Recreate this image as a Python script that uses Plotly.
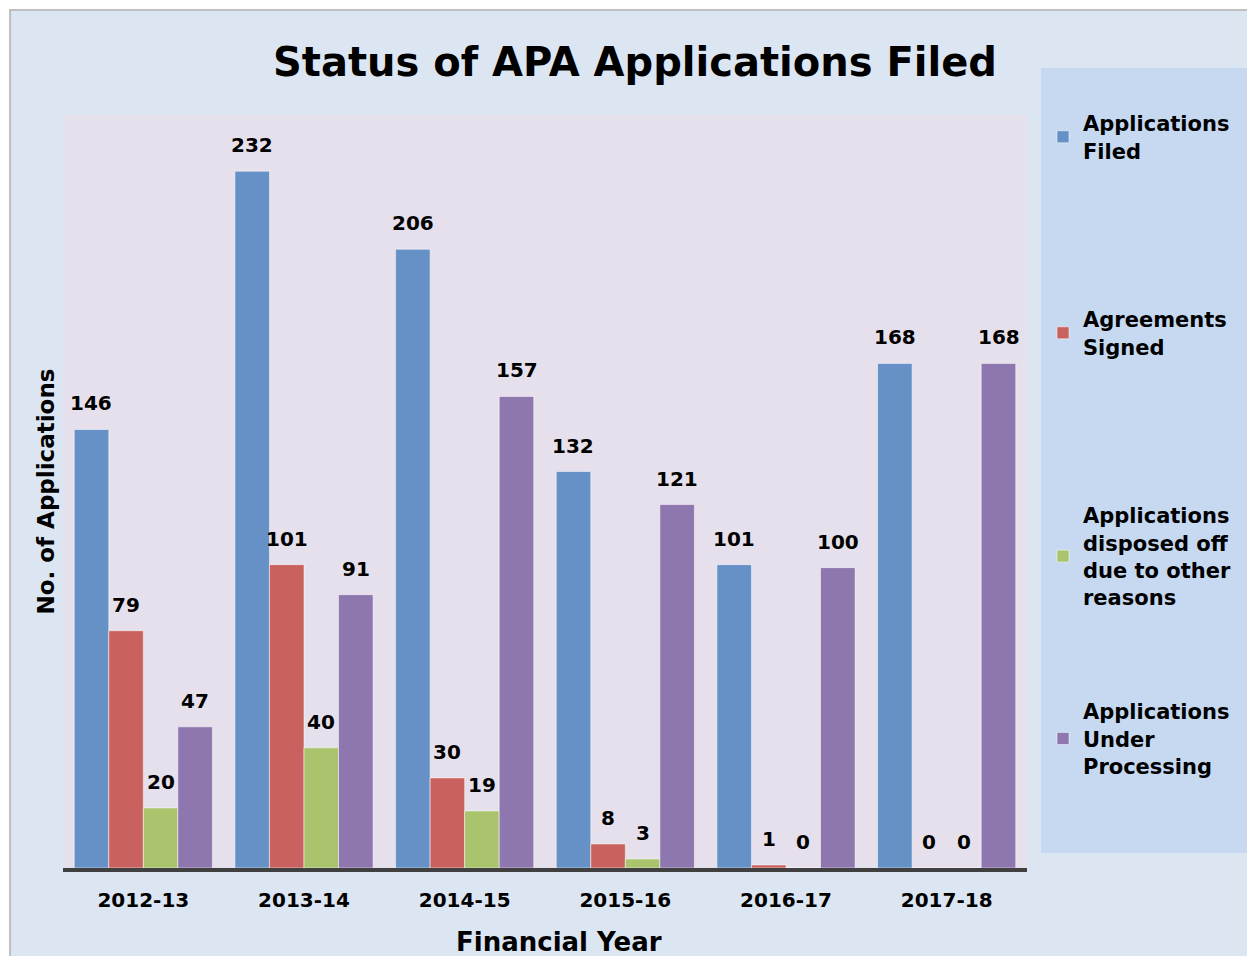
import plotly.graph_objects as go

years = ["2012-13", "2013-14", "2014-15", "2015-16", "2016-17", "2017-18"]
filed = [146, 232, 206, 132, 101, 168]
signed = [79, 101, 30, 8, 1, 0]
disposed = [20, 40, 19, 3, 0, 0]
processing = [47, 91, 157, 121, 100, 168]

series_names = ["Applications<br>Filed", "Agreements<br>Signed",
                "Applications<br>disposed off<br>due to other<br>reasons",
                "Applications<br>Under<br>Processing"]
series_values = [filed, signed, disposed, processing]
colors = ["#6691c6", "#c9625f", "#a9c46d", "#8e76ae"]

W, H = 1247, 956
L, R, T, B = 63, 219, 115, 88
pw, ph = W - L - R, H - T - B
BARGAP = 0.14

def px_x(p):
    return (p - L) / pw

def px_y(p):
    return (H - B - p) / ph

FONT = "DejaVu Sans"
fig = go.Figure()
legend_tops = [103, 299, 495, 691]
n = len(series_values)
bw = pw / len(years) * (1 - BARGAP) / n
annotations = []
for i, (name, vals, c) in enumerate(zip(series_names, series_values, colors)):
    lg = "legend" if i == 0 else f"legend{i+1}"
    fig.add_trace(go.Bar(
        x=years, y=vals, name=name,
        marker=dict(color=c, line=dict(color="rgba(255,255,255,0.5)", width=1)),
        legend=lg, hoverinfo="skip",
    ))
    for yr, v in zip(years, vals):
        annotations.append(dict(
            x=yr, y=v, xref="x", yref="y", text=str(v), showarrow=False,
            xanchor="center", yanchor="bottom", xshift=(i - (n - 1) / 2) * bw, yshift=12,
            font=dict(family=FONT, size=20, color="black", weight="bold")))

# outer white margin strips, frame and legend panel
fig.add_shape(type="rect", xref="paper", yref="paper",
              x0=px_x(-5), x1=px_x(1260), y0=px_y(10), y1=px_y(-5),
              fillcolor="white", line=dict(width=0), layer="below")
fig.add_shape(type="rect", xref="paper", yref="paper",
              x0=px_x(-5), x1=px_x(10), y0=px_y(970), y1=px_y(-5),
              fillcolor="white", line=dict(width=0), layer="below")
fig.add_shape(type="rect", xref="paper", yref="paper",
              x0=px_x(10), x1=px_x(1260), y0=px_y(970), y1=px_y(10),
              fillcolor="rgba(0,0,0,0)", line=dict(color="#bfbfbf", width=2), layer="below")
fig.add_shape(type="rect", xref="paper", yref="paper",
              x0=px_x(1042), x1=px_x(1260), y0=px_y(853), y1=px_y(68),
              fillcolor="#c6d9f1", line=dict(width=0), layer="below")

legend_common = dict(bgcolor="rgba(0,0,0,0)", font=dict(family=FONT, size=21, color="black", weight="bold"),
                     xanchor="left", yanchor="top", itemclick=False, itemwidth=30)
layout_legends = {}
for i, top in enumerate(legend_tops):
    key = "legend" if i == 0 else f"legend{i+1}"
    layout_legends[key] = dict(x=px_x(1043), y=px_y(top), **legend_common)

annotations += [
    dict(text="No. of Applications", xref="paper", yref="paper", x=px_x(45), y=0.5,
         textangle=-90, showarrow=False, xanchor="center", yanchor="middle",
         font=dict(family=FONT, size=23, color="black", weight="bold")),
    dict(text="Financial Year", xref="paper", yref="paper", x=px_x(560), y=px_y(942),
         showarrow=False, xanchor="center", yanchor="middle",
         font=dict(family=FONT, size=26, color="black", weight="bold")),
]

fig.update_layout(
    width=W, height=H,
    margin=dict(l=L, r=R, t=T, b=B),
    paper_bgcolor="#dce6f2", plot_bgcolor="#e6e0ec",
    barmode="group", bargap=BARGAP, bargroupgap=0,
    showlegend=True, hovermode=False,
    title=dict(text="Status of APA Applications Filed", x=635 / W, xanchor="center",
               y=1 - 62 / H, yanchor="middle",
               font=dict(family=FONT, size=40, color="black", weight="bold")),
    xaxis=dict(showline=True, linecolor="#404040", linewidth=4, ticks="outside", ticklen=11,
               tickcolor="rgba(0,0,0,0)", tickfont=dict(family=FONT, size=20, color="black", weight="bold"),
               showgrid=False),
    yaxis=dict(range=[0, 250.7], showticklabels=False, showgrid=False, zeroline=False, showline=False),
    annotations=annotations,
    **layout_legends,
)

fig.write_html("out.html", config={"displayModeBar": False},
               post_script="document.body.style.margin='0';document.body.style.overflow='hidden';")
